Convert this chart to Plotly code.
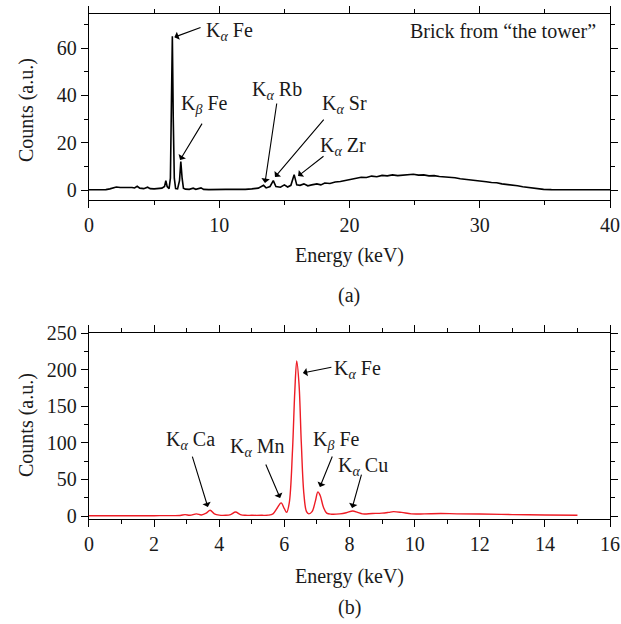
import plotly.graph_objects as go

# ---------------- data ----------------
energy_a = [0.0, 0.5, 1.0, 1.3, 1.6, 1.9, 2.1, 2.4, 2.7, 3.0, 3.3, 3.5, 3.7, 3.9, 4.2, 4.5, 4.7, 5.0, 5.3, 5.6,
            5.8, 5.9, 6.0, 6.15, 6.25, 6.32, 6.4, 6.47, 6.55, 6.65, 6.8, 6.95, 7.05, 7.15, 7.25, 7.4, 7.7, 8.0,
            8.2, 8.6, 8.8, 9.2, 9.6, 10.0, 10.5, 11.0, 11.5, 12.0, 12.5, 13.0, 13.4, 13.6, 13.9, 14.15, 14.35,
            14.7, 15.0, 15.25, 15.5, 15.75, 15.95, 16.2, 16.5, 16.8, 17.1, 17.5, 17.8, 18.1, 18.5, 18.9, 19.3,
            19.7, 20.1, 20.5, 20.9, 21.3, 21.7, 22.1, 22.5, 22.9, 23.3, 23.7, 24.1, 24.5, 24.9, 25.3, 25.7,
            26.1, 26.5, 26.9, 27.3, 27.7, 28.1, 28.5, 28.9, 29.3, 29.7, 30.1, 30.5, 30.9, 31.3, 31.7, 32.1,
            32.5, 32.9, 33.3, 33.7, 34.1, 34.5, 34.9, 35.5, 36.0, 37.0, 38.0, 39.0, 40.0]
counts_a = [0.1, 0.1, 0.1, 0.2, 0.5, 1.0, 1.3, 1.1, 1.2, 1.0, 1.1, 0.9, 1.6, 0.8, 0.6, 1.2, 0.6, 0.5, 0.5, 0.8,
            1.5, 4.0, 1.5, 0.6, 5.0, 30.0, 65.0, 30.0, 5.0, 0.6, 0.5, 4.0, 12.0, 5.0, 0.8, 0.4, 0.3, 0.8,
            0.3, 0.9, 0.3, 0.2, 0.3, 0.2, 0.3, 0.3, 0.2, 0.3, 0.5, 0.8, 2.0, 0.9, 1.5, 4.0, 1.5,
            1.2, 2.2, 1.3, 2.0, 6.5, 2.2, 2.0, 2.6, 1.8, 2.2, 2.6, 2.2, 3.0, 2.8, 3.4, 3.6,
            4.0, 4.3, 4.9, 5.4, 5.3, 5.9, 5.6, 6.2, 6.0, 6.4, 6.1, 6.3, 6.2, 6.7, 6.3, 6.4,
            6.0, 6.1, 5.7, 5.6, 5.3, 5.2, 4.8, 4.6, 4.2, 4.0, 3.7, 3.5, 3.2, 3.1, 2.6, 2.4,
            2.0, 1.8, 1.4, 1.1, 0.8, 0.5, 0.3, 0.2, 0.2, 0.15, 0.1, 0.1, 0.1]

energy_b = [0.0, 0.5, 1.0, 1.5, 2.0, 2.5, 2.8, 2.95, 3.1, 3.3, 3.45, 3.6, 3.72, 3.85, 4.0, 4.2, 4.35, 4.5,
            4.65, 4.8, 5.0, 5.3, 5.5, 5.65, 5.78, 5.9, 6.0, 6.07, 6.15, 6.25, 6.32, 6.38, 6.45, 6.52, 6.6,
            6.68, 6.75, 6.85, 6.95, 7.03, 7.1, 7.2, 7.3, 7.45, 7.7, 7.9, 8.1, 8.25, 8.4, 8.7, 9.0, 9.2,
            9.35, 9.6, 9.9, 10.3, 10.8, 11.3, 12.0, 13.0, 14.0, 15.0]
counts_b = [0.5, 0.5, 0.5, 0.5, 0.5, 0.6, 0.8, 2.0, 1.0, 3.0, 1.5, 4.0, 8.0, 3.0, 1.2, 1.0, 2.0, 5.5,
            2.0, 1.0, 1.0, 1.0, 1.2, 3.0, 11.0, 18.0, 10.0, 5.0, 18.0, 90.0, 170.0, 212.0, 180.0, 100.0, 30.0,
            6.0, 3.0, 6.0, 20.0, 33.0, 28.0, 12.0, 4.0, 2.5, 3.0, 4.5, 7.0, 5.0, 3.0, 3.5, 4.0, 5.0,
            6.0, 5.0, 3.0, 3.0, 3.5, 3.0, 2.8, 2.0, 1.5, 1.0]

# peak labels: (text, text_x, text_y, tail_x, tail_y, tip_x, tip_y)
labels_a = [
    ("K<sub><i>α</i></sub> Fe", 10.8, 67.2, 8.68, 68.9, 6.55, 64.6),
    ("K<sub><i>β</i></sub> Fe", 8.9, 36.3, 8.75, 28.7, 6.99, 12.7),
    ("K<sub><i>α</i></sub> Rb", 14.43, 42.2, 14.43, 37.2, 13.51, 3.0),
    ("K<sub><i>α</i></sub> Sr", 19.65, 36.3, 18.12, 30.4, 14.28, 5.5),
    ("K<sub><i>α</i></sub> Zr", 19.5, 18.6, 18.12, 14.8, 16.05, 5.9),
]
labels_b = [
    ("K<sub><i>α</i></sub> Fe", 8.26, 200.8, 7.49, 203.6, 6.57, 195.4),
    ("K<sub><i>α</i></sub> Ca", 3.13, 103.8, 3.16, 83.3, 3.65, 12.3),
    ("K<sub><i>α</i></sub> Mn", 5.19, 94.3, 5.41, 72.4, 5.87, 24.6),
    ("K<sub><i>β</i></sub> Fe", 7.59, 103.8, 7.49, 83.3, 7.09, 39.6),
    ("K<sub><i>α</i></sub> Cu", 8.42, 68.3, 8.38, 58.7, 8.08, 10.9),
]

FONT = "Liberation Serif"
FS = 20
TXT = "#1a1a1a"

fig = go.Figure()
fig.add_trace(go.Scatter(x=energy_a, y=counts_a, mode="lines",
                         line=dict(color="black", width=1.6), xaxis="x", yaxis="y", showlegend=False))
fig.add_trace(go.Scatter(x=energy_b, y=counts_b, mode="lines", line_shape="spline",
                         line=dict(color="#ee1c25", width=1.4), xaxis="x2", yaxis="y2", showlegend=False))

def axis(**kw):
    d = dict(showline=True, linecolor="black", linewidth=1.3, mirror="ticks", ticks="outside",
             ticklen=7, tickwidth=1.2, tickcolor="black", showgrid=False, zeroline=False,
             automargin=False, tickfont=dict(family=FONT, size=FS, color=TXT))
    d.update(kw)
    return d

fig.update_layout(
    width=621, height=624, margin=dict(l=0, r=0, t=0, b=0, autoexpand=False),
    paper_bgcolor="white", plot_bgcolor="white",
    font=dict(family=FONT, size=FS, color=TXT),
    xaxis=axis(domain=[0.1433, 0.9823], range=[0, 40], dtick=10, anchor="y",
               minor=dict(dtick=5, ticklen=4, tickwidth=1.1, ticks="outside", tickcolor="black")),
    yaxis=axis(domain=[0.6795, 0.9776], range=[-4.2, 74.4], tickvals=[0, 20, 40, 60], anchor="x",
               minor=dict(tickvals=[10, 30, 50, 70], ticklen=4, tickwidth=1.1, ticks="outside", tickcolor="black")),
    xaxis2=axis(domain=[0.1433, 0.9823], range=[0, 16], dtick=2, anchor="y2",
                minor=dict(dtick=1, ticklen=4, tickwidth=1.1, ticks="outside", tickcolor="black")),
    yaxis2=axis(domain=[0.1683, 0.4663], range=[-4, 250], dtick=50, anchor="x2",
                minor=dict(dtick=25, ticklen=4, tickwidth=1.1, ticks="outside", tickcolor="black")),
)

ann = []
for (labels, xr, yr) in [(labels_a, "x", "y"), (labels_b, "x2", "y2")]:
    for (txt, tx, ty, ax_, ay_, px, py) in labels:
        ann.append(dict(x=px, y=py, ax=ax_, ay=ay_, xref=xr, yref=yr, axref=xr, ayref=yr,
                        text="", showarrow=True, arrowhead=1, arrowsize=1.3, arrowwidth=1.1,
                        arrowcolor="black", standoff=0, startstandoff=0))
        ann.append(dict(x=tx, y=ty, xref=xr, yref=yr, text=txt, showarrow=False,
                        font=dict(family=FONT, size=FS, color=TXT)))

ann.append(dict(x=39.1, y=67.2, xref="x", yref="y", xanchor="right", text="Brick from “the tower”",
                showarrow=False, font=dict(family=FONT, size=FS, color=TXT)))
# axis titles and panel letters
xc = 0.1433 + 0.5 * (0.9823 - 0.1433)
for (txt, x, y, ang) in [("Energy (keV)", xc, 1 - 255 / 624, 0), ("(a)", xc, 1 - 295 / 624, 0),
                         ("Energy (keV)", xc, 1 - 576 / 624, 0), ("(b)", xc, 1 - 607 / 624, 0),
                         ("Counts (a.u.)", 26 / 621, 1 - 110 / 624, -90),
                         ("Counts (a.u.)", 26 / 621, 1 - 425 / 624, -90)]:
    ann.append(dict(x=x, y=y, xref="paper", yref="paper", text=txt, showarrow=False, textangle=ang,
                    font=dict(family=FONT, size=FS, color=TXT), xanchor="center", yanchor="middle"))
fig.update_layout(annotations=ann)

fig.write_html("out.html")
